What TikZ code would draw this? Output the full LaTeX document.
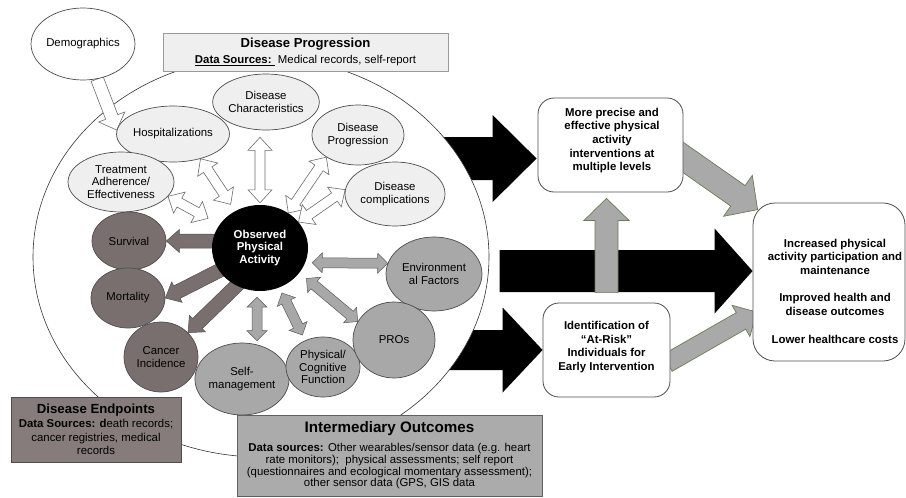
\documentclass[tikz,border=0pt]{standalone}
\usepackage{fontspec}
\setmainfont{Liberation Sans}
\usetikzlibrary{calc,shapes.geometric}
\pgfdeclarelayer{lzero}\pgfdeclarelayer{lone}\pgfdeclarelayer{ltwo}
\pgfsetlayers{lzero,lone,ltwo,main}
\definecolor{lightf}{HTML}{EFEFEF}
\definecolor{darkf}{HTML}{7A6F6F}
\definecolor{darkbox}{HTML}{877C7C}
\definecolor{midf}{HTML}{A8A8A8}
\definecolor{midbox}{HTML}{ABABAB}
\definecolor{edgec}{HTML}{4D4D4D}
\definecolor{greenedge}{HTML}{6B7B58}
\definecolor{grayarr}{HTML}{A9A9A9}
\newcommand\fsn{\fontsize{11.4pt}{12.6pt}\selectfont}
% block arrows: style, tail, tip, shaft half width, head half width, head length
\newcommand\dblarrow[6]{%
  \coordinate (qa) at #2; \coordinate (qb) at #3;
  \coordinate (ha) at ($(qa)!#6!(qb)$);
  \coordinate (hb) at ($(qb)!#6!(qa)$);
  \path[#1] (qa) -- ($(ha)!#5!90:(qb)$) -- ($(ha)!#4!90:(qb)$) -- ($(hb)!#4!-90:(qa)$) -- ($(hb)!#5!-90:(qa)$) -- (qb) -- ($(hb)!#5!90:(qa)$) -- ($(hb)!#4!90:(qa)$) -- ($(ha)!#4!-90:(qb)$) -- ($(ha)!#5!-90:(qb)$) -- cycle;}
\newcommand\sglarrow[6]{%
  \coordinate (qa) at #2; \coordinate (qb) at #3;
  \coordinate (hb) at ($(qb)!#6!(qa)$);
  \path[#1] ($(qa)!#4!90:(qb)$) -- ($(hb)!#4!-90:(qa)$) -- ($(hb)!#5!-90:(qa)$) -- (qb) -- ($(hb)!#5!90:(qa)$) -- ($(hb)!#4!90:(qa)$) -- ($(qa)!#4!-90:(qb)$) -- cycle;}
\begin{document}
\begin{tikzpicture}[x=1pt,y=-1pt,
  sz/.style 2 args={minimum width=#1, minimum height=#2},
  ell/.style={ellipse, draw=edgec, line width=0.7pt, inner sep=0pt, align=center, font=\fsn},
  lightell/.style={ell, fill=lightf},
  darkell/.style={ell, fill=darkf},
  midell/.style={ell, fill=midf},
  sqbox/.style={rectangle, inner sep=0pt, align=center, font=\fsn},
  rbox/.style={rectangle, rounded corners=16pt, draw=edgec, line width=0.8pt, fill=white, inner sep=0pt},
  rtext/.style={align=center, font=\fontsize{11.4pt}{13.7pt}\selectfont\bfseries},
  whitearr/.style={fill=white, draw=gray!85!black, line width=0.6pt},
  darkarr/.style={fill=darkf, draw=darkf!70!black, line width=0.5pt},
  midarr/.style={fill=midf, draw=gray!70!black, line width=0.5pt},
  blackarr/.style={fill=black},
  grayarrow/.style={fill=grayarr, draw=greenedge, line width=0.7pt}]

\begin{pgfonlayer}{lzero}
\path[use as bounding box, fill=white] (0,0) rectangle (906,498);
\end{pgfonlayer}

% right-hand boxes
\node[rbox, sz={145pt}{94pt}] (more) at (610.5,145) {};
\node[rtext] at ($(more.center)+(1.5,-4.5)$) {More precise and\\effective physical\\activity\\interventions at\\multiple levels};
\node[rbox, sz={127pt}{94pt}] (ident) at (606.5,350) {};
\node[rtext] at ($(ident.center)+(0,-3)$) {Identification of\\``At-Risk''\\Individuals for\\Early Intervention};
\node[rbox, rounded corners=22pt, sz={152pt}{158pt}] (right) at (829,282) {};
\node[rtext] at ($(right.center)+(6,9)$) {Increased physical\\activity participation and\\maintenance\\[13.7pt]Improved health and\\disease outcomes\\[13.7pt]Lower healthcare costs};

% inner nodes
\node[ell, fill=white, sz={102pt}{72pt}] (demo) at (83,44) {Demographics};
\node[lightell, sz={104pt}{56pt}] (dchar) at (266,102) {Disease\\Characteristics};
\node[lightell, sz={106pt}{56pt}] (hosp) at (173,134) {Hospitalizations};
\node[lightell, sz={92pt}{60pt}] (dprog) at (358,135) {Disease\\Progression};
\node[lightell, sz={106pt}{60pt}] (treat) at (121,182) {Treatment\\Adherence/\\Effectiveness};
\node[lightell, sz={100pt}{64pt}] (dcomp) at (395,194) {Disease\\complications};
\node[darkell, sz={74pt}{58pt}] (surv) at (129,241) {Survival};
\node[darkell, sz={74pt}{60pt}] (mort) at (128,298) {Mortality};
\node[darkell, sz={74pt}{70pt}] (canc) at (161,357) {Cancer\\Incidence};
\node[midell, sz={94pt}{72pt}] (selfm) at (242,379) {Self-\\management};
\node[midell, sz={74pt}{60pt}] (phys) at (323,367) {Physical/\\Cognitive\\Function};
\node[midell, sz={96pt}{74pt}] (env) at (434,274) {Environment\\al Factors};
\node[midell, sz={82pt}{76pt}] (pros) at (394,340) {PROs};
\node[ellipse, fill=black, inner sep=0pt, sz={96pt}{86pt}, text=white, align=center, font=\fontsize{11.4pt}{12.6pt}\selectfont\bfseries] (opa) at (260,248) {Observed\\Physical\\Activity};

% boxes over the big ellipse
\node[sqbox, fill=lightf, draw=gray!80, line width=0.8pt, sz={285pt}{38pt}] (dpbox) at (305.5,52)
  {{\fontsize{13.1pt}{15pt}\selectfont\bfseries Disease Progression}\\[3.4pt]\textbf{\underline{Data Sources:\ }}\ Medical records, self-report};
\node[sqbox, fill=darkbox, draw=edgec, line width=0.8pt, sz={170pt}{65pt}, font=\fontsize{11.4pt}{13.5pt}\selectfont] (debox) at (96,429.5)
  {{\fontsize{13.2pt}{15pt}\selectfont\bfseries Disease Endpoints}\\[0.5pt]\textbf{Data Sources: d}eath records;\\cancer registries, medical\\records};
\node[sqbox, fill=midbox, draw=gray!75!black, line width=0.8pt, sz={305pt}{81pt}, font=\fontsize{11.4pt}{11.6pt}\selectfont] (iobox) at (389.5,455.5)
  {{\fontsize{15.2pt}{17pt}\selectfont\bfseries Intermediary Outcomes}\\[7.4pt]\textbf{Data sources:} Other wearables/sensor data (e.g. heart\\rate monitors);\ \ physical assessments; self report\\(questionnaires and ecological momentary assessment);\\other sensor data (GPS, GIS data};

% black arrows behind the big ellipse
\begin{pgfonlayer}{lzero}
\sglarrow{blackarr}{([xshift=-110pt,yshift=-13.5pt]more.west)}{([xshift=-1pt,yshift=-13.5pt]more.west)}{21.5pt}{43.5pt}{44pt}
\sglarrow{blackarr}{([xshift=-253pt,yshift=11pt]right.west)}{([yshift=11pt]right.west)}{21pt}{42.5pt}{38pt}
\sglarrow{blackarr}{([xshift=-110pt]ident.west)}{(ident.west)}{20pt}{42.5pt}{40pt}
\end{pgfonlayer}

\begin{pgfonlayer}{lone}
\draw[fill=white, draw=black!80, line width=0.6pt] (261,257) ellipse [x radius=228pt, y radius=200pt];
\end{pgfonlayer}

\begin{pgfonlayer}{ltwo}
% disease progression
\sglarrow{whitearr}{(demo.-68)}{(hosp.176)}{6.5pt}{14pt}{14pt}
\dblarrow{whitearr}{(hosp.-42)}{($(opa.124)!8pt!(hosp.-42)$)}{5pt}{12pt}{13pt}
\dblarrow{whitearr}{(treat.-17)}{($(opa.150)!13pt!(treat.-17)$)}{5pt}{12pt}{13pt}
\dblarrow{whitearr}{($(dchar.south -| opa)+(0,7)$)}{($(opa.north)+(0,-2)$)}{5pt}{12pt}{13pt}
\dblarrow{whitearr}{(dprog.215)}{(opa.51)}{5pt}{12pt}{13pt}
\dblarrow{whitearr}{(dcomp.175)}{(opa.34)}{5pt}{12pt}{13pt}
% endpoints
\sglarrow{darkarr}{($(surv.east -| opa.west)+(4,0)$)}{(surv.east)}{7pt}{11.5pt}{13pt}
\sglarrow{darkarr}{($(opa.209)!-5pt!(mort.east)$)}{(mort.east)}{7pt}{11.5pt}{13pt}
\sglarrow{darkarr}{($(opa.238)!-5pt!(canc.42)$)}{(canc.42)}{7pt}{11.5pt}{13pt}
% intermediary
\dblarrow{midarr}{($(opa.-18)+(7,0)$)}{(env.167)}{5pt}{10pt}{10pt}
\dblarrow{midarr}{($(opa.-32)!9pt!(pros.153)$)}{(pros.153)}{5pt}{10pt}{10pt}
\dblarrow{midarr}{($(opa.south)+(-3,6)$)}{($(opa.south |- selfm.north)+(-3,-2)$)}{5pt}{10pt}{10pt}
\dblarrow{midarr}{($(opa.-64)!6pt!(phys.124)$)}{($(phys.124)!6pt!(opa.-64)$)}{5pt}{10pt}{10pt}
% right-hand grey arrows
\sglarrow{grayarrow}{($(ident.north)+(0,-10)$)}{($(more.south -| ident.north)+(0,6)$)}{11.5pt}{22.5pt}{22pt}
\sglarrow{grayarrow}{($(more.east)+(-8,7)$)}{($(right.north west)+(5,7)$)}{12.5pt}{25pt}{24pt}
\sglarrow{grayarrow}{($(ident.east)+(-3,13)$)}{($(right.west)+(4,30)$)}{9.5pt}{18pt}{18pt}
\end{pgfonlayer}
\end{tikzpicture}
\end{document}
